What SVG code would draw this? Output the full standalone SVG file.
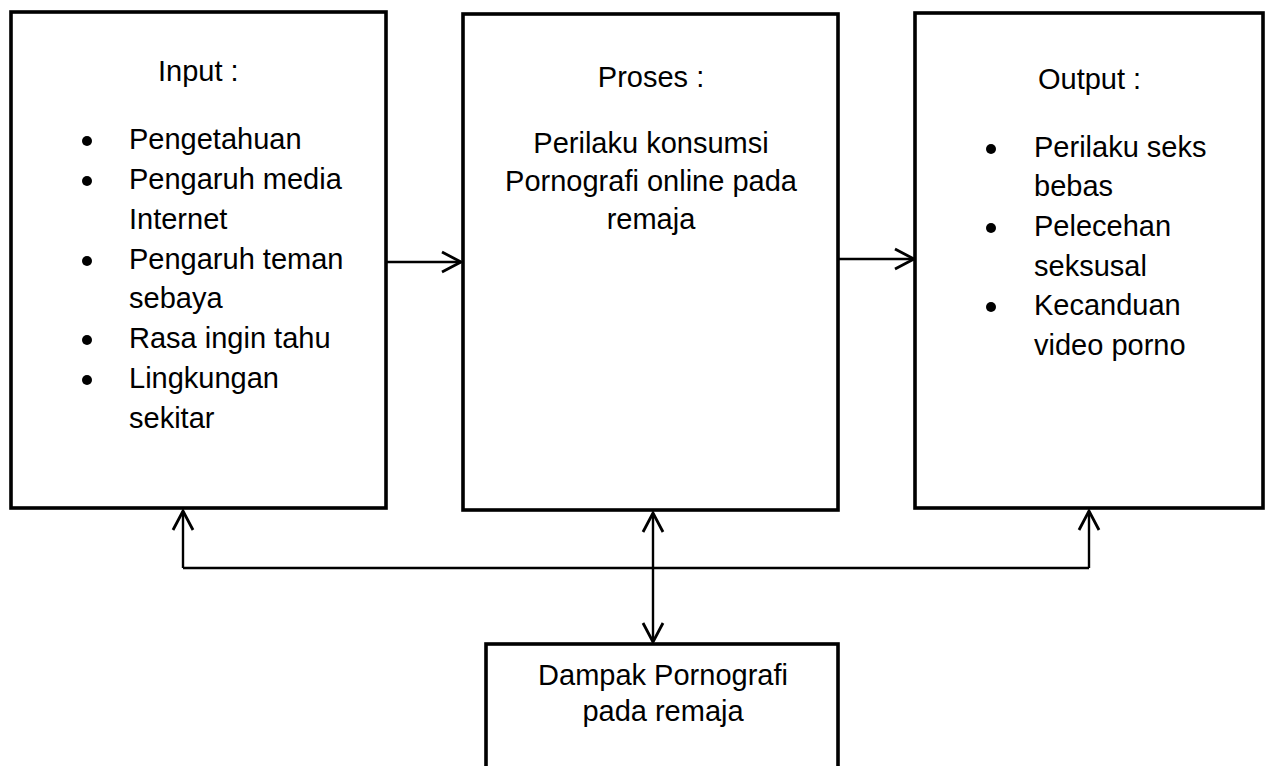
<svg xmlns="http://www.w3.org/2000/svg" width="1266" height="766" viewBox="0 0 1266 766">
<style>
.box{fill:#fff;stroke:#000;stroke-width:3.6}
.t{font-family:"Liberation Sans",Arial,sans-serif;font-size:29px;fill:#000}
.c{text-anchor:middle}
.conn{fill:none;stroke:#000;stroke-width:2.4}
.dot{fill:#000}
</style>
<defs>
<marker id="ah" viewBox="-22 -12 26 24" markerWidth="26" markerHeight="24" refX="0" refY="0" orient="auto-start-reverse" markerUnits="userSpaceOnUse" overflow="visible">
<path d="M-19,-10 L0,0 L-19,10" fill="none" stroke="#000" stroke-width="2.8"/>
</marker>
</defs>
<rect width="1266" height="766" fill="#fff"/>
<g id="connectors">
<path class="conn" d="M386,262 H461" stroke-width="2.8" marker-end="url(#ah)"/>
<path class="conn" d="M838,259 H914" stroke-width="2.8" marker-end="url(#ah)"/>
<path class="conn" d="M183,568 H1089"/>
<path class="conn" d="M183,568 V511" marker-end="url(#ah)"/>
<path class="conn" d="M1089,568 V511" marker-end="url(#ah)"/>
<path class="conn" d="M653,642 V513" marker-start="url(#ah)" marker-end="url(#ah)"/>
</g>
<g id="input">
<rect class="box" x="11" y="12" width="375" height="496"/>
<text class="t" x="158" y="81">Input :</text>
<circle class="dot" cx="87" cy="141" r="5"/>
<circle class="dot" cx="87" cy="181" r="5"/>
<circle class="dot" cx="87" cy="261" r="5"/>
<circle class="dot" cx="87" cy="340" r="5"/>
<circle class="dot" cx="87" cy="380" r="5"/>
<text class="t" x="129" y="149">Pengetahuan</text>
<text class="t" x="129" y="189">Pengaruh media</text>
<text class="t" x="129" y="229">Internet</text>
<text class="t" x="129" y="269">Pengaruh teman</text>
<text class="t" x="129" y="308">sebaya</text>
<text class="t" x="129" y="348">Rasa ingin tahu</text>
<text class="t" x="129" y="388">Lingkungan</text>
<text class="t" x="129" y="428">sekitar</text>
</g>
<g id="proses">
<rect class="box" x="463" y="14" width="375" height="496"/>
<text class="t c" x="651" y="87">Proses :</text>
<text class="t c" x="651" y="153">Perilaku konsumsi</text>
<text class="t c" x="651" y="191">Pornografi online pada</text>
<text class="t c" x="651" y="229">remaja</text>
</g>
<g id="output">
<rect class="box" x="915" y="13" width="348" height="495"/>
<text class="t" x="1038" y="89">Output :</text>
<circle class="dot" cx="991" cy="149" r="5"/>
<circle class="dot" cx="991" cy="228" r="5"/>
<circle class="dot" cx="991" cy="307" r="5"/>
<text class="t" x="1034" y="157">Perilaku seks</text>
<text class="t" x="1034" y="196">bebas</text>
<text class="t" x="1034" y="236">Pelecehan</text>
<text class="t" x="1034" y="276">seksusal</text>
<text class="t" x="1034" y="315">Kecanduan</text>
<text class="t" x="1034" y="355">video porno</text>
</g>
<g id="dampak">
<rect class="box" x="486" y="644" width="352" height="200"/>
<text class="t c" x="663" y="685">Dampak Pornografi</text>
<text class="t c" x="663" y="721">pada remaja</text>
</g>
</svg>
